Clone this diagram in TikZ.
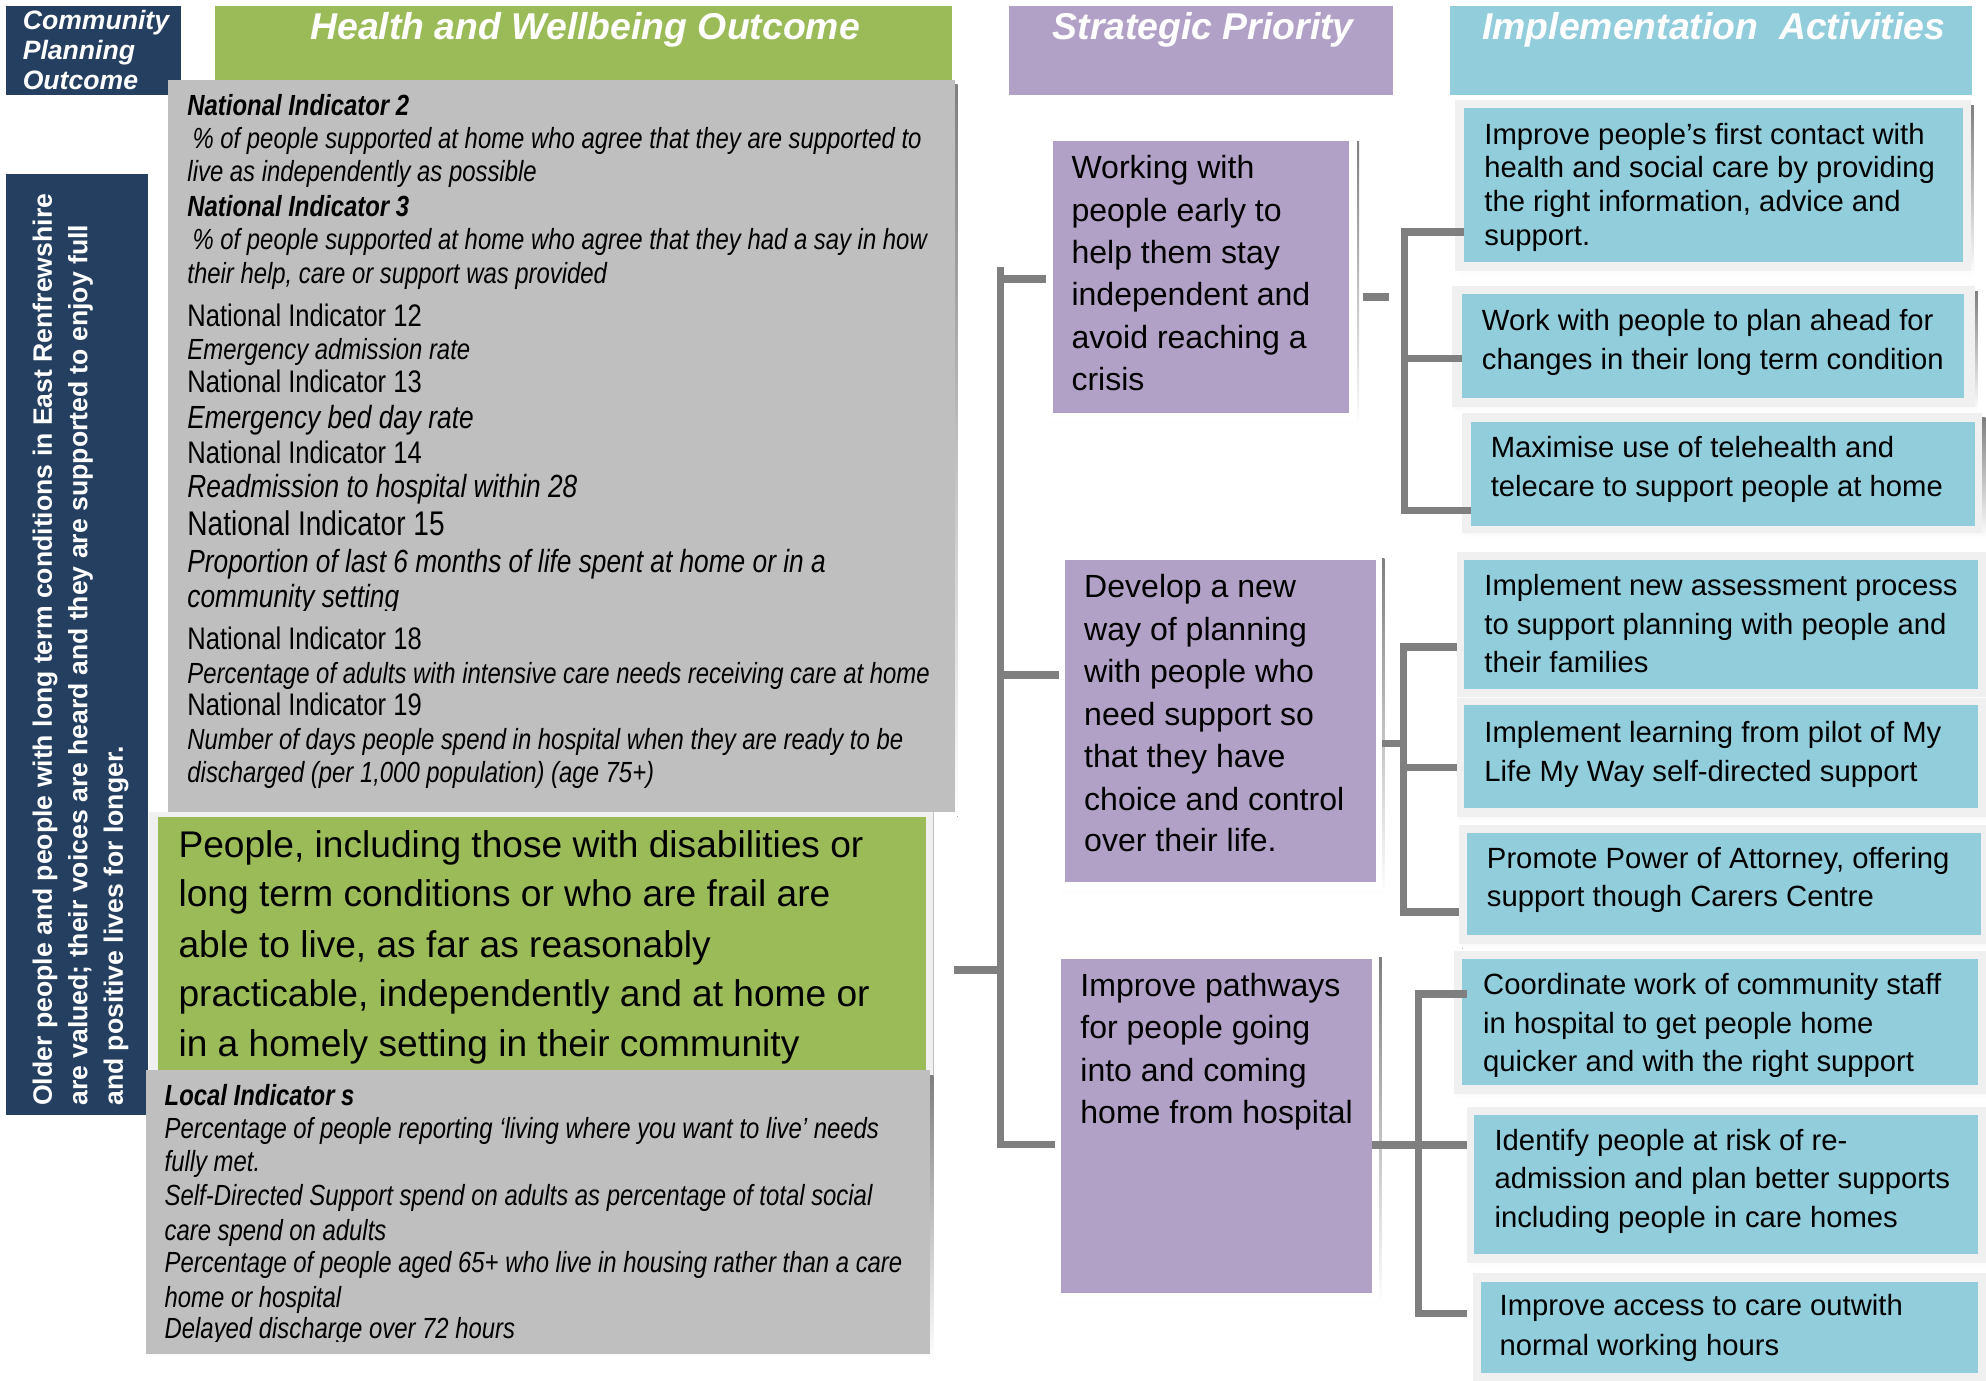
\documentclass[tikz,border=0pt]{standalone}
\usepackage{fontspec}
\setmainfont{Liberation Sans}
\newfontfamily\narrowfont[FakeStretch=0.82]{Liberation Sans}
\usetikzlibrary{calc}

\definecolor{navy}{HTML}{243F60}
\definecolor{hwgreen}{HTML}{9BBB59}
\definecolor{prio}{HTML}{B2A1C7}
\definecolor{act}{HTML}{92CDDC}
\definecolor{indgray}{HTML}{BFBFBF}
\definecolor{shade}{HTML}{A4AA8D}
\definecolor{framegray}{HTML}{F0F0F0}
\definecolor{linegray}{HTML}{7F7F7F}

\newcommand\fs[1]{\fontsize{#1}{#1}\selectfont}

% plain filled panel: name, colour, x1, y1, x2, y2, extra options
\newcommand\panelbox[7]{%
  \node[panel, fill=#2, minimum width={(#5)-(#3)}, minimum height={(#6)-(#4)}, #7] (#1) at (#3,#4) {};}
% priority panel with white frame and drop shadow: name, frame x1 y1 x2 y2, box x1 y1 x2 y2
\newcommand\priobox[9]{%
  \fill[shade] ({#2+2},{#3+4}) rectangle ({#4+2},{#5+4});
  \panelbox{#1f}{white}{#2}{#3}{#4}{#5}{}
  \panelbox{#1}{prio}{#6}{#7}{#8}{#9}{}}
% activity panel with light grey frame and drop shadow
\newcommand\actbox[9]{%
  \fill[shade] ({#2+2.5},{#3+4}) rectangle ({#4+2.5},{#5+4});
  \panelbox{#1f}{framegray}{#2}{#3}{#4}{#5}{}
  \panelbox{#1}{act}{#6}{#7}{#8}{#9}{}}

\begin{document}
\begin{tikzpicture}[x=1pt, y=-1pt,
  panel/.style={anchor=north west, inner sep=0pt, outer sep=0pt, draw=none},
  txt/.style={anchor=base west, inner sep=0pt, outer sep=0pt},
  hdr/.style={anchor=base, inner sep=0pt, outer sep=0pt, text=white, font=\fs{29.5}\bfseries\itshape},
  cpotxt/.style={txt, text=white, font=\fs{21}\bfseries\itshape},
  vtxt/.style={txt, rotate=90, text=white, font=\fs{21}\bfseries},
  ind/.style={txt, font=\narrowfont\fs{23}\itshape},
  indbig/.style={txt, font=\narrowfont\fs{25.3}\itshape},
  indhead/.style={txt, font=\narrowfont\fs{23}\bfseries\itshape},
  indnum/.style={txt, font=\narrowfont\fs{24.6}},
  outtxt/.style={txt, font=\fs{29.3}},
  priotxt/.style={txt, font=\fs{25.3}},
  acttxt/.style={txt, font=\fs{23.1}},
  conn/.style={draw=linegray, line width=6pt, line join=miter, line cap=butt}]

\clip (0,0) rectangle (1568,1090);
\fill[white] (0,0) rectangle (1568,1090);

% ---------- column headers ----------
\panelbox{cpo}{navy}{5}{5}{143}{75}{}
\node[cpotxt] (cpo1) at (18,23) {Community};
\node[cpotxt] (cpo2) at (18,47) {Planning};
\node[cpotxt] (cpo3) at (18,71) {Outcome};

\panelbox{hwo}{hwgreen}{170}{5}{752}{75}{}
\node[hdr] (hwot) at (462,31) {Health and Wellbeing Outcome};

\panelbox{sph}{prio}{797}{5}{1100}{75}{}
\node[hdr] (spht) at (950,31) {Strategic Priority};

\panelbox{iah}{act}{1145}{5}{1557}{75}{}
\node[hdr] (iaht) at (1353,31) {Implementation\ \ Activities};

% ---------- community planning outcome ----------
\panelbox{cpov}{navy}{5}{137}{117}{880}{}
\node[vtxt] (cpov1) at (41,873) {Older people and people with long term conditions in East Renfrewshire};
\node[vtxt] (cpov2) at (69,873) {are valued; their voices are heard and they are supported to enjoy full};
\node[vtxt] (cpov3) at (97,873) {and positive lives for longer.};

% ---------- national indicators ----------
\fill[shade] (135,67) rectangle (756,645);
\panelbox{nat}{indgray}{133}{63}{754}{641}{}
\node[indhead] (n1) at (148,91) {National Indicator 2};
\node[ind] (n2) at (152,117) {\% of people supported at home who agree that they are supported to};
\node[ind] (n3) at (148,143.5) {live as independently as possible};
\node[indhead] (n4) at (148,171) {National Indicator 3};
\node[ind] (n5) at (152,197) {\% of people supported at home who agree that they had a say in how};
\node[ind] (n6) at (148,224) {their help, care or support was provided};
\node[indnum] (n7) at (148,258) {National Indicator 12};
\node[ind] (n8) at (148,284) {Emergency admission rate};
\node[indnum] (n9) at (148,310) {National Indicator 13};
\node[indbig] (n10) at (148,338) {Emergency bed day rate};
\node[indnum] (n11) at (148,366) {National Indicator 14};
\node[indbig] (n12) at (148,393) {Readmission to hospital within 28};
\node[indnum, font=\narrowfont\fs{27}] (n13) at (148,423) {National Indicator 15};
\node[indbig] (n14) at (148,452) {Proportion of last 6 months of life spent at home or in a};
\begin{scope}
  \clip (140,455) rectangle (700,482);
  \node[indbig] (n15) at (148,480) {community setting};
\end{scope}
\node[indnum] (n16) at (148,513) {National Indicator 18};
\node[ind] (n17) at (148,540) {Percentage of adults with intensive care needs receiving care at home};
\node[indnum] (n18) at (148,565) {National Indicator 19};
\node[ind] (n19) at (148,592) {Number of days people spend in hospital when they are ready to be};
\node[ind] (n20) at (148,618) {discharged (per 1,000 population) (age 75+)};

% ---------- health and wellbeing outcome ----------
\fill[framegray] (118,641) rectangle (737,860);
\draw[line width=1pt, black!25] (737,641) -- (737,862);
\panelbox{hwbox}{hwgreen}{125}{645}{731}{850}{}
\node[outtxt] (o1) at (141,677) {People, including those with disabilities or};
\node[outtxt] (o2) at (141,716) {long term conditions or who are frail are};
\node[outtxt] (o3) at (141,756) {able to live, as far as reasonably};
\node[outtxt] (o4) at (141,795) {practicable, independently and at home or};
\node[outtxt] (o5) at (141,834) {in a homely setting in their community};

% ---------- local indicators ----------
\fill[shade] (118,849) rectangle (737,1073);
\panelbox{loc}{indgray}{115}{845}{734}{1069}{}
\node[indhead] (l1) at (130,873) {Local Indicator s};
\node[ind] (l2) at (130,899) {Percentage of people reporting ‘living where you want to live’ needs};
\node[ind] (l3) at (130,925) {fully met.};
\node[ind] (l4) at (130,952) {Self-Directed Support spend on adults as percentage of total social};
\node[ind] (l5) at (130,979) {care spend on adults};
\node[ind] (l6) at (130,1005) {Percentage of people aged 65+ who live in housing rather than a care};
\node[ind] (l7) at (130,1032) {home or hospital};
\begin{scope}
  \clip (120,1035) rectangle (700,1059);
  \node[ind] (l8) at (130,1057) {Delayed discharge over 72 hours};
\end{scope}

% ---------- strategic priorities ----------
\priobox{s1}{826}{108}{1071}{333}{831}{111}{1065}{326}
\foreach \yy/\tx [count=\i] in {141/{Working with}, 175/{people early to}, 208/{help them stay},
    241/{independent and}, 275/{avoid reaching a}, 308/{crisis}}
  \node[priotxt] (s1l\i) at (846,\yy) {\tx};

\priobox{s2}{836}{437}{1091}{703}{841}{442}{1086}{696}
\foreach \yy/\tx [count=\i] in {472/{Develop a new}, 506/{way of planning}, 539/{with people who},
    573/{need support so}, 606/{that they have}, 640/{choice and control}, 672/{over their life.}}
  \node[priotxt] (s2l\i) at (856,\yy) {\tx};

\priobox{s3}{833}{752}{1089}{1027}{838}{757}{1083}{1021}
\foreach \yy/\tx [count=\i] in {787/{Improve pathways}, 820/{for people going},
    854/{into and coming}, 887/{home from hospital}}
  \node[priotxt] (s3l\i) at (853,\yy) {\tx};

% ---------- implementation activities ----------
\actbox{a1}{1149}{79}{1556}{214}{1156}{85}{1550}{207}
\foreach \yy/\tx [count=\i] in {114/{Improve people’s first contact with}, 140/{health and social care by providing},
    167/{the right information, advice and}, 194/{support.}}
  \node[acttxt] (a1l\i) at (1172,\yy) {\tx};

\actbox{a2}{1146}{226}{1559}{321}{1154}{232}{1551}{314}
\foreach \yy/\tx [count=\i] in {261/{Work with people to plan ahead for}, 292/{changes in their long term condition}}
  \node[acttxt] (a2l\i) at (1170,\yy) {\tx};

\actbox{a3}{1154}{326}{1565}{421}{1161}{333}{1559}{415}
\foreach \yy/\tx [count=\i] in {361/{Maximise use of telehealth and}, 392/{telecare to support people at home}}
  \node[acttxt] (a3l\i) at (1177,\yy) {\tx};

\actbox{a4}{1150}{436}{1572}{550}{1156}{442}{1562}{544}
\foreach \yy/\tx [count=\i] in {470/{Implement new assessment process}, 501/{to support planning with people and},
    531/{their families}}
  \node[acttxt] (a4l\i) at (1172,\yy) {\tx};

\actbox{a5}{1150}{551}{1572}{645}{1156}{557}{1562}{638}
\foreach \yy/\tx [count=\i] in {586/{Implement learning from pilot of My}, 617/{Life My Way self-directed support}}
  \node[acttxt] (a5l\i) at (1172,\yy) {\tx};

\actbox{a6}{1152}{651}{1572}{745}{1158}{658}{1564}{738}
\foreach \yy/\tx [count=\i] in {686/{Promote Power of Attorney, offering}, 716/{support though Carers Centre}}
  \node[acttxt] (a6l\i) at (1174,\yy) {\tx};

\actbox{a7}{1148}{751}{1572}{864}{1154}{757}{1562}{857}
\foreach \yy/\tx [count=\i] in {785/{Coordinate work of community staff}, 816/{in hospital to get people home}}
  \node[acttxt] (a7l\i) at (1171,\yy) {\tx};
\begin{scope}
  \clip (1160,820) rectangle (1560,850);
  \node[acttxt] (a7l3) at (1171,846) {quicker and with the right support};
\end{scope}

\actbox{a8}{1158}{874}{1572}{997}{1164}{880}{1562}{990}
\foreach \yy/\tx [count=\i] in {908/{Identify people at risk of re-}, 938/{admission and plan better supports},
    969/{including people in care homes}}
  \node[acttxt] (a8l\i) at (1180,\yy) {\tx};

\actbox{a9}{1163}{1005}{1572}{1095}{1169}{1012}{1562}{1084}
\foreach \yy/\tx [count=\i] in {1039/{Improve access to care outwith}, 1070/{normal working hours}}
  \node[acttxt] (a9l\i) at (1184,\yy) {\tx};

% ---------- connectors ----------
% outcome to priorities
\coordinate (trunktop) at (790,211);
\coordinate (trunkbot) at (790,906);
\coordinate (hwlink) at (753,766);
\draw[conn] (trunktop) -- (trunkbot);
\draw[conn] (hwlink) -- (hwlink -| trunktop);
\draw[conn] (trunktop |- s1f.west) -- (s1f.west);
\draw[conn] (790,533) -- (s2f.west |- 0,533);
\draw[conn] (790,903.5) -- (s3f.west |- 0,903.5);

% first priority to its activities
\coordinate (s1out) at (1076,234.5);
\draw[conn] (s1out) -- ++(21,0);
\draw[conn] (a1.west |- 0,183) -| (1109,403) -- (a3.west |- 0,403);
\draw[conn] (1109,283) -- (a2.west |- 0,283);

% second priority to its activities
\draw[conn] (s2f.east |- 0,587) -- (1108,587);
\draw[conn] (a4f.west |- 0,511) -| (1108,720) -- (a6f.west |- 0,720);
\draw[conn] (1108,606) -- (a5f.west |- 0,606);

% third priority to its activities
\draw[conn] (s3.east |- 0,904) -- (1158,904);
\draw[conn] (1158,785) -| (1120,1037) -- (1158,1037);
\end{tikzpicture}
\end{document}
